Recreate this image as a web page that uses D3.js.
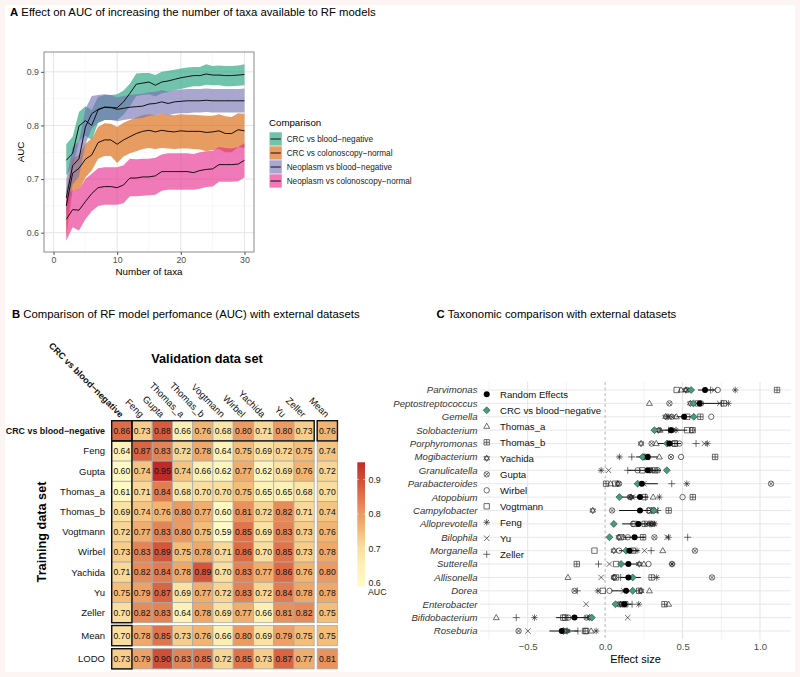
<!DOCTYPE html>
<html><head><meta charset="utf-8">
<script src="https://cdn.jsdelivr.net/npm/d3@7"></script>
<style>
html,body{margin:0;padding:0;background:#fcf5f3;}
svg{display:block;font-family:"Liberation Sans",Arial,Helvetica,sans-serif;}
</style></head><body>
<svg id="fig" width="800" height="677"></svg>
<script>
// ================= DATA =================
// Panel A
const taxaCount = [2,3,4,5,6,7,8,9,10,11,12,13,14,15,16,17,18,19,20,21,22,23,24,25,26,27,28,29,30];
const comparisons = ["CRC vs blood−negative","CRC vs colonoscopy−normal","Neoplasm vs blood−negative","Neoplasm vs colonoscopy−normal"];
const crcBloodMean = [0.735,0.748,0.799,0.809,0.800,0.829,0.834,0.833,0.833,0.844,0.860,0.877,0.879,0.881,0.875,0.881,0.883,0.886,0.889,0.891,0.893,0.893,0.896,0.894,0.894,0.893,0.893,0.894,0.895];
const crcBloodLow  = [0.707,0.722,0.770,0.781,0.773,0.805,0.810,0.810,0.810,0.820,0.836,0.855,0.857,0.858,0.854,0.860,0.862,0.866,0.868,0.871,0.873,0.873,0.876,0.875,0.875,0.873,0.873,0.874,0.875];
const crcBloodHigh = [0.765,0.779,0.825,0.836,0.829,0.853,0.857,0.857,0.858,0.865,0.878,0.897,0.898,0.898,0.894,0.900,0.902,0.904,0.906,0.908,0.909,0.909,0.914,0.911,0.912,0.911,0.911,0.912,0.914];
const crcColonMean = [0.650,0.711,0.720,0.737,0.745,0.768,0.773,0.773,0.765,0.773,0.779,0.785,0.789,0.791,0.788,0.791,0.789,0.788,0.790,0.789,0.789,0.789,0.787,0.788,0.790,0.785,0.785,0.792,0.790];
const crcColonLow  = [0.592,0.680,0.680,0.703,0.716,0.738,0.743,0.743,0.730,0.742,0.748,0.752,0.756,0.758,0.756,0.758,0.757,0.756,0.757,0.757,0.756,0.755,0.752,0.754,0.756,0.750,0.750,0.760,0.758];
const crcColonHigh = [0.680,0.738,0.745,0.766,0.775,0.797,0.804,0.803,0.797,0.805,0.810,0.815,0.819,0.821,0.819,0.822,0.820,0.819,0.821,0.820,0.820,0.819,0.818,0.818,0.821,0.817,0.816,0.823,0.822];
const neoBloodMean = [0.665,0.725,0.738,0.797,0.822,0.830,0.834,0.834,0.830,0.832,0.834,0.835,0.836,0.840,0.841,0.844,0.841,0.844,0.845,0.846,0.846,0.846,0.847,0.846,0.846,0.846,0.846,0.846,0.846];
const neoBloodLow  = [0.630,0.690,0.705,0.765,0.795,0.805,0.810,0.810,0.808,0.810,0.812,0.813,0.814,0.818,0.819,0.822,0.819,0.822,0.823,0.823,0.824,0.824,0.825,0.824,0.824,0.824,0.824,0.824,0.824];
const neoBloodHigh = [0.700,0.760,0.770,0.830,0.855,0.857,0.858,0.857,0.852,0.855,0.857,0.858,0.859,0.862,0.863,0.866,0.863,0.866,0.867,0.868,0.868,0.868,0.869,0.868,0.868,0.868,0.868,0.868,0.869];
const neoColonMean = [0.625,0.643,0.642,0.658,0.673,0.684,0.686,0.686,0.684,0.689,0.702,0.702,0.704,0.704,0.706,0.714,0.714,0.714,0.714,0.714,0.712,0.716,0.718,0.719,0.727,0.727,0.727,0.728,0.735];
const neoColonLow  = [0.585,0.610,0.604,0.625,0.640,0.650,0.652,0.652,0.652,0.655,0.668,0.668,0.669,0.670,0.671,0.678,0.680,0.680,0.680,0.680,0.680,0.682,0.685,0.686,0.695,0.695,0.695,0.696,0.703];
const neoColonHigh = [0.668,0.680,0.681,0.700,0.710,0.720,0.722,0.722,0.722,0.726,0.738,0.737,0.738,0.738,0.740,0.746,0.748,0.748,0.748,0.748,0.747,0.750,0.752,0.753,0.760,0.758,0.757,0.760,0.767];
const xTicksA = [0,10,20,30];
const yTicksA = [0.6,0.7,0.8,0.9];

// Panel B
const validationSets = ["CRC vs blood−negative","Feng","Gupta","Thomas_a","Thomas_b","Vogtmann","Wirbel","Yachida","Yu","Zeller","Mean"];
const trainingSets = ["CRC vs blood−negative","Feng","Gupta","Thomas_a","Thomas_b","Vogtmann","Wirbel","Yachida","Yu","Zeller","Mean","LODO"];
const aucCRC      = [0.86,0.73,0.88,0.66,0.76,0.68,0.80,0.71,0.80,0.73,0.76];
const aucFeng     = [0.64,0.87,0.83,0.72,0.78,0.64,0.75,0.69,0.72,0.75,0.74];
const aucGupta    = [0.60,0.74,0.95,0.74,0.66,0.62,0.77,0.62,0.69,0.76,0.72];
const aucThomasA  = [0.61,0.71,0.84,0.68,0.70,0.70,0.75,0.65,0.65,0.68,0.70];
const aucThomasB  = [0.69,0.74,0.76,0.80,0.77,0.60,0.81,0.72,0.82,0.71,0.74];
const aucVogtmann = [0.72,0.77,0.83,0.80,0.75,0.59,0.85,0.69,0.83,0.73,0.76];
const aucWirbel   = [0.73,0.83,0.89,0.75,0.78,0.71,0.86,0.70,0.85,0.73,0.78];
const aucYachida  = [0.71,0.82,0.84,0.78,0.89,0.70,0.83,0.77,0.86,0.76,0.80];
const aucYu       = [0.75,0.79,0.87,0.69,0.77,0.72,0.83,0.72,0.84,0.78,0.78];
const aucZeller   = [0.70,0.82,0.83,0.64,0.78,0.69,0.77,0.66,0.81,0.82,0.75];
const aucMean     = [0.70,0.78,0.85,0.73,0.76,0.66,0.80,0.69,0.79,0.75,0.75];
const aucLODO     = [0.73,0.79,0.90,0.83,0.85,0.72,0.85,0.73,0.87,0.77,0.81];
const aucLegendTicks = [0.6,0.7,0.8,0.9];

// Panel C
const taxa = ["Parvimonas","Peptostreptococcus","Gemella","Solobacterium","Porphyromonas","Mogibacterium","Granulicatella","Parabacteroides","Atopobium","Campylobacter","Alloprevotella","Bilophila","Morganella","Sutterella","Allisonella","Dorea","Enterobacter","Bifidobacterium","Roseburia"];
const reEffect = [0.645,0.610,0.510,0.425,0.415,0.275,0.275,0.237,0.225,0.225,0.215,0.190,0.157,0.150,0.150,0.135,0.125,-0.198,-0.280];
const reLow    = [0.600,0.550,0.460,0.350,0.340,0.200,0.150,0.190,0.110,0.090,0.110,0.120,0.090,0.090,0.100,0.040,0.080,-0.316,-0.360];
const reHigh   = [0.705,0.740,0.555,0.530,0.490,0.340,0.360,0.340,0.275,0.300,0.320,0.260,0.220,0.220,0.230,0.200,0.170,-0.090,-0.176];
const effCRCBlood = [0.555,0.570,0.572,0.318,0.400,0.243,0.398,0.210,0.092,0.314,0.056,0.028,0.135,0.103,0.178,0.178,0.067,-0.086,-0.270];
const effThomasA  = [0.490,0.286,0.460,0.355,0.330,0.350,0.300,0.035,0.310,0.320,0.280,0.120,0.372,0.250,-0.240,0.286,0.410,-0.703,-0.090];
const effThomasB  = [1.110,0.766,0.615,0.565,0.450,0.710,0.320,0.006,0.566,0.410,0.255,0.245,0.180,-0.183,0.300,0.220,0.383,-0.258,-0.130];
const effYachida  = [0.520,0.550,0.390,0.345,0.232,0.250,0.290,0.082,0.168,-0.080,0.300,0.088,0.056,0.220,0.056,0.232,0.100,-0.100,-0.245];
const effGupta    = [0.530,0.415,0.430,0.430,0.300,0.425,0.340,1.071,0.160,0.045,0.310,0.318,0.580,0.432,0.690,-0.198,0.110,-0.120,-0.559];
const effWirbel   = [0.727,0.620,0.685,0.560,0.480,0.490,0.210,0.090,0.500,0.280,0.180,0.146,0.090,0.280,0.060,0.028,0.090,-0.237,-0.260];
const effVogtmann = [0.462,0.600,0.530,0.529,0.450,0.270,0.240,0.065,0.254,0.290,0.190,0.100,-0.069,0.071,0.070,-0.015,0.130,-0.270,-0.123];
const effFeng     = [0.840,0.796,0.410,0.458,0.660,0.092,-0.026,0.527,0.350,0.300,0.320,0.409,0.206,0.432,0.333,-0.047,0.217,-0.456,-0.058];
const effYu       = [0.705,0.740,0.440,0.440,0.640,0.260,0.022,0.250,0.175,0.330,0.270,0.400,0.254,0.028,-0.026,0.120,-0.123,0.146,-0.499];
const effZeller   = [0.680,0.750,0.400,0.410,0.587,0.172,0.146,0.430,0.260,0.340,0.290,0.533,0.297,-0.043,0.100,-0.180,0.174,-0.574,-0.176];
const effectTicks = [-0.5,0,0.5,1.0];
const effectMinor = [-0.75,-0.25,0.25,0.75];

// ================= STYLE =================
const FONT = '"Liberation Sans",Arial,Helvetica,sans-serif';
const compColors = ["#1B9E77","#D95F02","#7570B3","#E7298A"];
const heatStops = [[0.59,"#FFFBC8"],[0.66,"#FCEFB4"],[0.72,"#F7D594"],[0.76,"#F1B571"],[0.80,"#EA9A62"],[0.84,"#E17D52"],[0.88,"#D65C3D"],[0.95,"#BF2A28"]];
const tickGrey = "#4d4d4d";

const svg = d3.select("#fig");
svg.append("rect").attr("x",5).attr("y",5).attr("width",790).attr("height",667).attr("fill","#ffffff");

// scale a text element's font so that it spans the wanted width
function fitWidth(sel, width){
  const node = sel.node();
  const fs = parseFloat(sel.attr("font-size"));
  const w = node.getComputedTextLength();
  if (w > 0) sel.attr("font-size", (fs*width/w).toFixed(2));
  return sel;
}
function title(letter, txt, x, y, width){
  const t = svg.append("text").attr("x",x).attr("y",y).attr("font-size",11).attr("fill","#000");
  t.append("tspan").attr("font-weight","bold").text(letter);
  t.append("tspan").text(" " + txt);
  fitWidth(t, width);
}

// ================= PANEL A =================
(function(){
  const L=44,R=254,T=52,B=252;
  const x = d3.scaleLinear().domain([-1.5,31.5]).range([L,R]);
  const y = d3.scaleLinear().domain([0.564,0.937]).range([B,T]);
  const g = svg.append("g");
  title("A","Effect on AUC of increasing the number of taxa available to RF models",10,16,366);
  g.append("rect").attr("x",L).attr("y",T).attr("width",R-L).attr("height",B-T).attr("fill","#fff");
  [5,15,25].forEach(v=>g.append("line").attr("x1",x(v)).attr("x2",x(v)).attr("y1",T).attr("y2",B).attr("stroke","#f3f3f3").attr("stroke-width",0.6));
  [0.65,0.75,0.85].forEach(v=>g.append("line").attr("y1",y(v)).attr("y2",y(v)).attr("x1",L).attr("x2",R).attr("stroke","#f3f3f3").attr("stroke-width",0.6));
  xTicksA.forEach(v=>g.append("line").attr("x1",x(v)).attr("x2",x(v)).attr("y1",T).attr("y2",B).attr("stroke","#e6e6e6").attr("stroke-width",1));
  yTicksA.forEach(v=>g.append("line").attr("y1",y(v)).attr("y2",y(v)).attr("x1",L).attr("x2",R).attr("stroke","#e6e6e6").attr("stroke-width",1));
  const series = [
    [crcBloodMean,crcBloodLow,crcBloodHigh],
    [crcColonMean,crcColonLow,crcColonHigh],
    [neoBloodMean,neoBloodLow,neoBloodHigh],
    [neoColonMean,neoColonLow,neoColonHigh]];
  const area = d3.area().x(d=>x(d.n)).y0(d=>y(d.lo)).y1(d=>y(d.hi));
  const line = d3.line().x(d=>x(d.n)).y(d=>y(d.m));
  const recs = series.map(s=>taxaCount.map((n,i)=>({n, m:s[0][i], lo:s[1][i], hi:s[2][i]})));
  recs.forEach((r,i)=>g.append("path").attr("d",area(r)).attr("fill",compColors[i]).attr("fill-opacity",0.62));
  recs.forEach(r=>g.append("path").attr("d",line(r)).attr("fill","none").attr("stroke","#000").attr("stroke-width",0.9));
  g.append("rect").attr("x",L).attr("y",T).attr("width",R-L).attr("height",B-T).attr("fill","none").attr("stroke","#8a8a8a").attr("stroke-width",1);
  const xa = g.append("g").attr("transform",`translate(0,${B})`).call(d3.axisBottom(x).tickValues(xTicksA).tickSize(3).tickPadding(2));
  const ya = g.append("g").attr("transform",`translate(${L},0)`).call(d3.axisLeft(y).tickValues(yTicksA).tickFormat(d3.format(".1f")).tickSize(3).tickPadding(2));
  [xa,ya].forEach(a=>{a.select(".domain").remove();a.selectAll("line").attr("stroke","#555");
    a.selectAll("text").attr("fill",tickGrey).attr("font-size",8.8).attr("font-family",FONT);});
  g.append("text").attr("x",(L+R)/2).attr("y",275).attr("text-anchor","middle").attr("font-size",9.8).text("Number of taxa");
  g.append("text").attr("transform",`translate(24,${(T+B)/2}) rotate(-90)`).attr("text-anchor","middle").attr("font-size",9.8).text("AUC");
  g.append("text").attr("x",269).attr("y",125.5).attr("font-size",9.7).text("Comparison");
  const ly = d3.scaleBand().domain(comparisons).range([132.3,188.3]);
  comparisons.forEach((c,i)=>{
    const yy = ly(c);
    g.append("rect").attr("x",269.5).attr("y",yy).attr("width",12.3).attr("height",13.3).attr("fill",compColors[i]).attr("fill-opacity",0.62);
    g.append("line").attr("x1",270.5).attr("x2",280.8).attr("y1",yy+6.7).attr("y2",yy+6.7).attr("stroke","#000").attr("stroke-width",0.9);
    g.append("text").attr("x",286.7).attr("y",yy+9.7).attr("font-size",8.2).attr("fill","#1a1a1a").text(c);
  });
})();

// ================= PANEL B =================
(function(){
  const g = svg.append("g");
  title("B","Comparison of RF model perfomance (AUC) with external datasets",12,318,348);
  const rowsData = [aucCRC,aucFeng,aucGupta,aucThomasA,aucThomasB,aucVogtmann,aucWirbel,aucYachida,aucYu,aucZeller,aucMean,aucLODO];
  const xb = d3.scaleBand().domain(validationSets).range([111.7,111.7+11*20.25]);
  const yb = d3.scaleBand().domain(trainingSets).range([420.7,420.7+12*20.2]);
  const colX = c => xb(c) + (c==="Mean" ? 3 : 0);
  const rowY = r => yb(r) + (r==="Mean" ? 2.8 : r==="LODO" ? 5.8 : 0);
  const bw = xb.bandwidth(), bh = yb.bandwidth();
  const color = d3.scaleLinear().domain(heatStops.map(s=>s[0])).range(heatStops.map(s=>s[1])).interpolate(d3.interpolateLab).clamp(true);
  const cells = [];
  trainingSets.forEach((r,i)=>validationSets.forEach((c,j)=>cells.push({r,c,v:rowsData[i][j]})));
  g.selectAll("rect.cell").data(cells).enter().append("rect").attr("class","cell")
    .attr("x",d=>colX(d.c)).attr("y",d=>rowY(d.r)).attr("width",bw).attr("height",bh)
    .attr("fill",d=>color(d.v)).attr("stroke","#a9a9a9").attr("stroke-width",0.8);
  g.selectAll("text.val").data(cells).enter().append("text").attr("class","val")
    .attr("x",d=>colX(d.c)+bw/2).attr("y",d=>rowY(d.r)+bh/2+3.1).attr("text-anchor","middle")
    .attr("font-size",8.6).attr("fill","#111").text(d=>d.v.toFixed(2));
  const boxes = [[0,0,0,0],[1,9,0,0],[10,10,0,0],[0,0,1,9],[0,0,10,10],[0,0,11,11]];
  boxes.forEach(([c0,c1,r0,r1])=>{
    const xa = colX(validationSets[c0]), xb2 = colX(validationSets[c1])+bw;
    const ya = rowY(trainingSets[r0]), yb2 = rowY(trainingSets[r1])+bh;
    g.append("rect").attr("x",xa).attr("y",ya).attr("width",xb2-xa).attr("height",yb2-ya)
      .attr("fill","none").attr("stroke","#111").attr("stroke-width",1.4);
  });
  trainingSets.forEach((r,i)=>{
    const t = g.append("text").attr("x",105).attr("y",rowY(r)+bh/2+3.3).attr("text-anchor","end")
      .attr("font-size",i===0?8.9:9.5).attr("font-weight",i===0?"bold":"normal").attr("fill","#111").text(r);
    if(i===0) fitWidth(t, 99);
  });
  validationSets.forEach((c,j)=>{
    const t = g.append("text").attr("transform",`translate(${colX(c)+bw/2-2},418) rotate(45)`).attr("text-anchor","end")
      .attr("font-size",j===0?8.9:9.5).attr("font-weight",j===0?"bold":"normal").attr("fill","#111").text(c);
    if(j===0) fitWidth(t, 101);
  });
  g.append("text").attr("x",207).attr("y",362.5).attr("text-anchor","middle").attr("font-size",12.7).attr("font-weight","bold").text("Validation data set");
  g.append("text").attr("transform","translate(46,532) rotate(-90)").attr("text-anchor","middle").attr("font-size",12.7).attr("font-weight","bold").text("Training data set");
  const ly = d3.scaleLinear().domain([0.59,0.95]).range([586.5,462.3]);
  const grad = svg.append("defs").append("linearGradient").attr("id","aucGrad").attr("x1",0).attr("x2",0).attr("y1",1).attr("y2",0);
  d3.range(0,1.0001,0.05).forEach(t=>{
    grad.append("stop").attr("offset",t).attr("stop-color",color(ly.invert(586.5 - t*(586.5-462.3))));
  });
  g.append("rect").attr("x",357.3).attr("y",ly(0.95)).attr("width",7.7).attr("height",ly(0.59)-ly(0.95)).attr("fill","url(#aucGrad)");
  aucLegendTicks.forEach(v=>{
    g.append("line").attr("x1",357.3).attr("x2",358.8).attr("y1",ly(v)).attr("y2",ly(v)).attr("stroke","#fff").attr("stroke-width",0.6);
    g.append("line").attr("x1",363.5).attr("x2",365).attr("y1",ly(v)).attr("y2",ly(v)).attr("stroke","#fff").attr("stroke-width",0.6);
    g.append("text").attr("x",368.5).attr("y",ly(v)+3).attr("font-size",8.8).attr("fill","#222").text(v.toFixed(1));
  });
  g.append("text").attr("x",368).attr("y",595).attr("font-size",8.8).attr("fill","#222").text("AUC");
})();

// ================= PANEL C =================
(function(){
  const g = svg.append("g");
  title("C","Taxonomic comparison with external datasets",436.5,318,240);
  const L=480,R=791,T=382,B=639;
  const x = d3.scaleLinear().domain([-0.808,1.2]).range([L,R]);
  const y = d3.scalePoint().domain(taxa).range([390,631]);
  effectMinor.forEach(v=>g.append("line").attr("x1",x(v)).attr("x2",x(v)).attr("y1",T).attr("y2",B).attr("stroke","#eeeeee").attr("stroke-width",0.7));
  effectTicks.forEach(v=>{ if(v!==0) g.append("line").attr("x1",x(v)).attr("x2",x(v)).attr("y1",T).attr("y2",B).attr("stroke","#e4e4e4").attr("stroke-width",1);});
  taxa.forEach(t=>g.append("line").attr("x1",L).attr("x2",R).attr("y1",y(t)).attr("y2",y(t)).attr("stroke","#e8e8e8").attr("stroke-width",1));
  g.append("line").attr("x1",x(0)).attr("x2",x(0)).attr("y1",T).attr("y2",B).attr("stroke","#b0b0b0").attr("stroke-width",0.9).attr("stroke-dasharray","3,2.5");

  const r = 2.7;
  const circ = s=>`M${s},0A${s},${s} 0 1,1 ${-s},0A${s},${s} 0 1,1 ${s},0Z`;
  const shapes = {
    circle: ()=>circ(r),
    square: ()=>`M${-r},${-r}H${r}V${r}H${-r}Z`,
    triangle: ()=>`M0,${-r*1.15}L${r*1.1},${r*0.75}L${-r*1.1},${r*0.75}Z`,
    plus: ()=>`M${-r*1.3},0H${r*1.3}M0,${-r*1.3}V${r*1.3}`,
    cross: ()=>`M${-r},${-r}L${r},${r}M${-r},${r}L${r},${-r}`,
    asterisk: ()=>`M${-r*1.2},0H${r*1.2}M0,${-r*1.2}V${r*1.2}M${-r*0.85},${-r*0.85}L${r*0.85},${r*0.85}M${-r*0.85},${r*0.85}L${r*0.85},${-r*0.85}`,
    squarePlus: ()=>`M${-r},${-r}H${r}V${r}H${-r}ZM${-r},0H${r}M0,${-r}V${r}`,
    circleCross: ()=>circ(r)+`M${-r*0.7},${-r*0.7}L${r*0.7},${r*0.7}M${-r*0.7},${r*0.7}L${r*0.7},${-r*0.7}`,
    david: ()=>`M0,${-r*1.2}L${r*1.05},${r*0.6}L${-r*1.05},${r*0.6}ZM0,${r*1.2}L${r*1.05},${-r*0.6}L${-r*1.05},${-r*0.6}Z`,
    diamond: ()=>`M0,${-r*1.3}L${r*1.3},0L0,${r*1.3}L${-r*1.3},0Z`
  };
  const datasets = [
    {name:"Thomas_a", vals:effThomasA, shape:"triangle"},
    {name:"Thomas_b", vals:effThomasB, shape:"squarePlus"},
    {name:"Yachida", vals:effYachida, shape:"david"},
    {name:"Gupta", vals:effGupta, shape:"circleCross"},
    {name:"Wirbel", vals:effWirbel, shape:"circle"},
    {name:"Vogtmann", vals:effVogtmann, shape:"square"},
    {name:"Feng", vals:effFeng, shape:"asterisk"},
    {name:"Yu", vals:effYu, shape:"cross"},
    {name:"Zeller", vals:effZeller, shape:"plus"}];
  datasets.forEach(ds=>{
    taxa.forEach((t,i)=>{
      const v = ds.vals[i]; if(v==null) return;
      g.append("path").attr("d",shapes[ds.shape]()).attr("transform",`translate(${x(v)},${y(t)})`)
        .attr("fill","none").attr("stroke","#222").attr("stroke-width",0.65);
    });
  });
  taxa.forEach((t,i)=>{
    g.append("line").attr("x1",x(reLow[i])).attr("x2",x(reHigh[i])).attr("y1",y(t)).attr("y2",y(t)).attr("stroke","#111").attr("stroke-width",1);
  });
  taxa.forEach((t,i)=>{
    g.append("path").attr("d",shapes.diamond()).attr("transform",`translate(${x(effCRCBlood[i])},${y(t)})`)
      .attr("fill","#41a07c").attr("stroke","#222").attr("stroke-width",0.5);
  });
  taxa.forEach((t,i)=>{
    g.append("circle").attr("cx",x(reEffect[i])).attr("cy",y(t)).attr("r",3).attr("fill","#000");
  });
  taxa.forEach(t=>g.append("text").attr("x",477.5).attr("y",y(t)+3.4).attr("text-anchor","end")
    .attr("font-size",9.6).attr("font-style","italic").attr("fill","#333").text(t));
  const xa = g.append("g").attr("transform",`translate(0,${B})`).call(d3.axisBottom(x).tickValues(effectTicks).tickSize(0).tickPadding(4)
      .tickFormat(d=>d3.format(".1f")(d).replace("-","−")));
  xa.select(".domain").remove();
  xa.selectAll("text").attr("fill",tickGrey).attr("font-size",9.6).attr("font-family",FONT);
  g.append("text").attr("x",(L+R)/2).attr("y",663).attr("text-anchor","middle").attr("font-size",11).text("Effect size");
  const legendItems = [{name:"Random Effects", shape:"dot"},{name:"CRC vs blood−negative", shape:"diamond"}]
    .concat(datasets.map(d=>({name:d.name, shape:d.shape})));
  const ly = d3.scalePoint().domain(legendItems.map(d=>d.name)).range([394.3,554.3]);
  legendItems.forEach(it=>{
    const yy = ly(it.name);
    if(it.shape==="dot") g.append("circle").attr("cx",486.7).attr("cy",yy).attr("r",3).attr("fill","#000");
    else if(it.shape==="diamond") g.append("path").attr("d",shapes.diamond()).attr("transform",`translate(486.7,${yy})`).attr("fill","#41a07c").attr("stroke","#222").attr("stroke-width",0.5);
    else g.append("path").attr("d",shapes[it.shape]()).attr("transform",`translate(486.7,${yy})`).attr("fill","none").attr("stroke","#222").attr("stroke-width",0.65);
    g.append("text").attr("x",500).attr("y",yy+3.5).attr("font-size",9.6).attr("fill","#111").text(it.name);
  });
})();
</script>
</body></html>
